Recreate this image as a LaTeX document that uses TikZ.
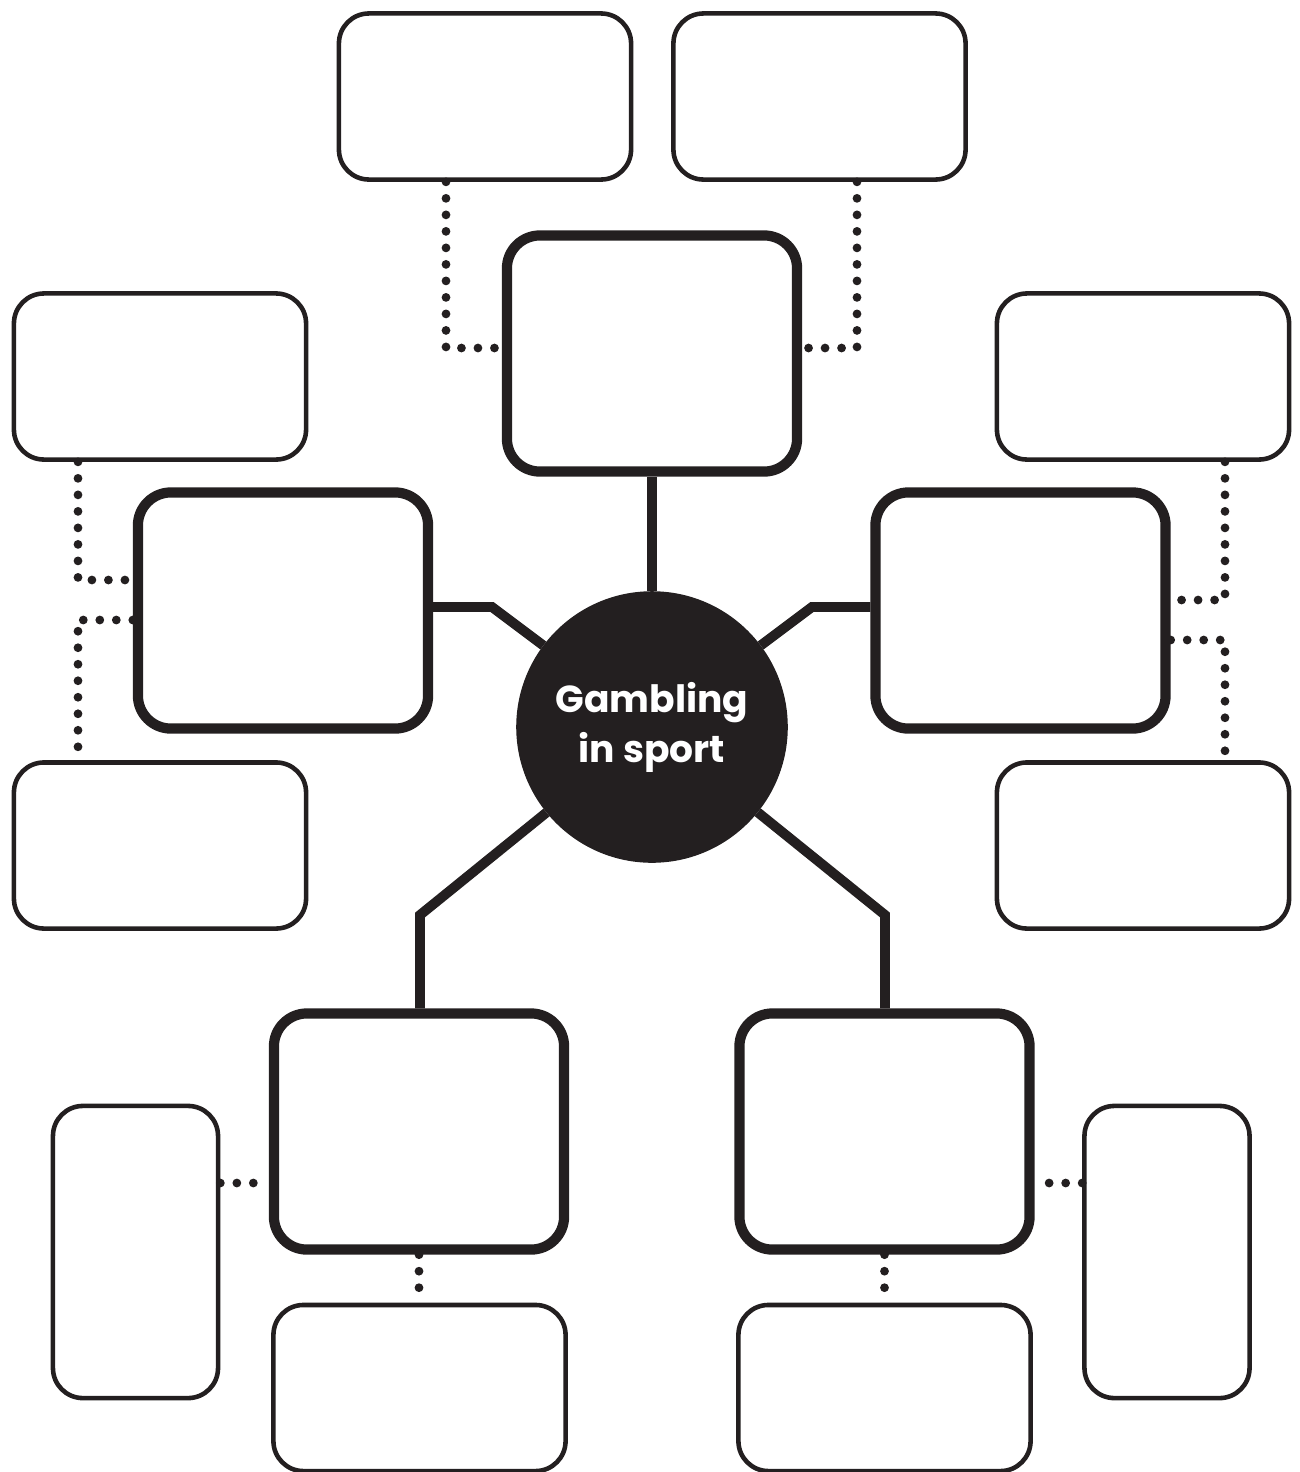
\documentclass[tikz,border=0pt]{standalone}
\usepackage{fontspec}
\setsansfont{Poppins}
\usepackage{xcolor}
\usetikzlibrary{
    arrows.meta,
    shapes,
    positioning,
    calc
}
\definecolor{ink}{HTML}{231F20}
\tikzset{%
    % Specifications for style of nodes:
    plain/.style = {},
    base/.style = {
        plain,
        rectangle, rounded corners=0.3cm, draw=ink,
        line width=1.3pt, fill=white
    },
    leaf/.style = {base, minimum width=2.92cm, minimum height=1.66cm},
    tall/.style = {base, minimum width=1.65cm, minimum height=2.92cm},
    branch/.style = {base, line width=2.9pt, rounded corners=0.33cm,
        minimum width=2.9cm, minimum height=2.36cm},
    hubnode/.style = {circle, fill=ink, draw=ink, minimum size=2.7cm,
        inner sep=0pt, text=white, align=center,
        font=\sffamily\bfseries\fontsize{10.7}{14.2}\selectfont},
    link/.style = {draw=ink, line width=2.8pt},
    dots/.style = {draw=ink, line width=2.5pt, line cap=round,
        dash pattern=on 0pt off 0.165cm}
}

\begin{document}
\begin{tikzpicture}[x=0.01cm, y=-0.01cm]
    \useasboundingbox (0,0) rectangle (1300,1472);
    % centre
    \node[hubnode] (hub) at (652,727) {Gambling\\in sport};
    % main branches
    \node[branch] (up) at (652,353.5) {};
    \node[branch] (west) at (283,610.5) {};
    \node[branch] (east) at (1020.5,610.5) {};
    \node[branch] (sw) at (419,1131.5) {};
    \node[branch] (se) at (884.5,1131.5) {};
    % outer leaves
    \node[leaf] (upl) at (485,96.5) {};
    \node[leaf] (upr) at (819.5,96.5) {};
    \node[leaf] (westa) at (160,376.5) {};
    \node[leaf] (westb) at (160,845.5) {};
    \node[leaf] (easta) at (1143,376.5) {};
    \node[leaf] (eastb) at (1143,845.5) {};
    \node[leaf] (swb) at (419.5,1388) {};
    \node[leaf] (seb) at (884.5,1388) {};
    \node[tall] (swa) at (135.5,1252) {};
    \node[tall] (sea) at (1167,1252) {};
    % bends
    \coordinate (kw) at (492,607);
    \coordinate (ke) at (812,607);
    \coordinate (ksw) at (420,915);
    \coordinate (kse) at (885,915);
    \coordinate (dul) at (446,348);
    \coordinate (dur) at (857,348);
    \coordinate (dwa) at (78,580);
    \coordinate (dwb) at (78,620);
    \coordinate (dea) at (1225,600);
    \coordinate (deb) at (1225,640);
    \coordinate (dsw) at (245,1183);
    \coordinate (dse) at (1058,1183);
    % solid links
    \draw[link] (hub.north) -- (up.south);
    \draw[link] (hub) -- (kw) -- (kw -| west.east);
    \draw[link] (hub) -- (ke) -- (ke -| east.west);
    \draw[link] (hub) -- (ksw) -- (ksw |- sw.north);
    \draw[link] (hub) -- (kse) -- (kse |- se.north);
    % dotted links
    \draw[dots] (dul |- upl.south) -- (dul) -- (dul -| up.west);
    \draw[dots] (dur |- upr.south) -- (dur) -- (dur -| up.east);
    \draw[dots] (dwa |- westa.south) -- (dwa) -- (dwa -| west.west);
    \draw[dots] (dwb -| west.west) -- (dwb) -- (dwb |- westb.north);
    \draw[dots] (dea |- easta.south) -- (dea) -- (dea -| east.east);
    \draw[dots] (deb -| east.east) -- (deb) -- (deb |- eastb.north);
    \draw[dots] (dsw -| swa.east) -- (dsw -| sw.west);
    \draw[dots] (dse -| sea.west) -- (dse -| se.east);
    \draw[dots] (sw.south) -- (sw.south |- swb.north);
    \draw[dots] (se.south) -- (se.south |- seb.north);
\end{tikzpicture}
\end{document}
